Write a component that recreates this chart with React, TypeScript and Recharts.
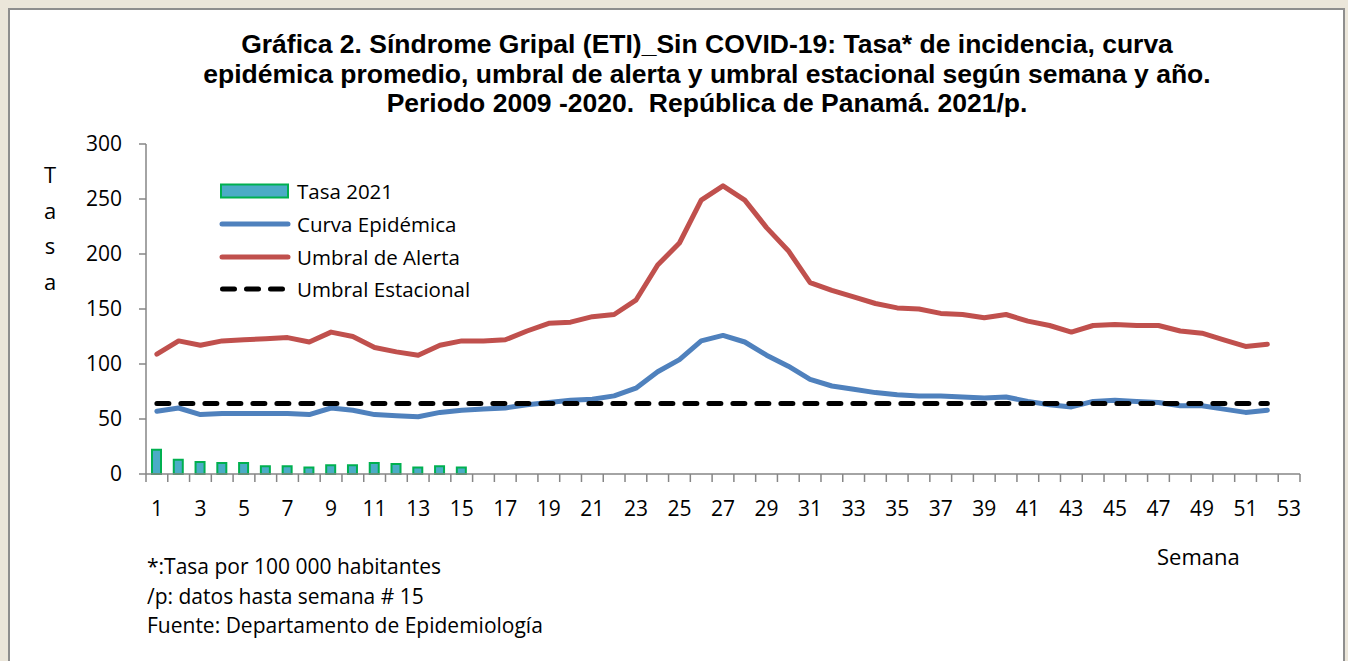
import React from "react";
import { ComposedChart, Bar, Line, XAxis, YAxis } from "recharts";

const weeks = [
  1, 2, 3, 4, 5, 6, 7, 8, 9, 10, 11, 12, 13, 14, 15, 16, 17, 18, 19, 20, 21, 22, 23, 24, 25, 26,
  27, 28, 29, 30, 31, 32, 33, 34, 35, 36, 37, 38, 39, 40, 41, 42, 43, 44, 45, 46, 47, 48, 49, 50,
  51, 52,
];

const tasa2021 = [22, 13, 11, 10, 10, 7, 7, 6, 8, 8, 10, 9, 6, 7, 6];

const curvaEpidemica = [
  57, 60, 54, 55, 55, 55, 55, 54, 60, 58, 54, 53, 52, 56, 58, 59, 60, 63, 65, 67, 68, 71, 78, 93,
  104, 121, 126, 120, 108, 98, 86, 80, 77, 74, 72, 71, 71, 70, 69, 70, 66, 63, 61, 66, 67, 66, 65,
  62, 62, 59, 56, 58,
];

const umbralAlerta = [
  109, 121, 117, 121, 122, 123, 124, 120, 129, 125, 115, 111, 108, 117, 121, 121, 122, 130, 137,
  138, 143, 145, 158, 190, 210, 249, 262, 249, 224, 203, 174, 167, 161, 155, 151, 150, 146, 145,
  142, 145, 139, 135, 129, 135, 136, 135, 135, 130, 128, 122, 116, 118,
];

const umbralEstacional = [
  64, 64, 64, 64, 64, 64, 64, 64, 64, 64, 64, 64, 64, 64, 64, 64, 64, 64, 64, 64, 64, 64, 64, 64,
  64, 64, 64, 64, 64, 64, 64, 64, 64, 64, 64, 64, 64, 64, 64, 64, 64, 64, 64, 64, 64, 64, 64, 64,
  64, 64, 64, 64,
];

const xTickLabels = [1, 3, 5, 7, 9, 11, 13, 15, 17, 19, 21, 23, 25, 27, 29, 31, 33, 35, 37, 39, 41, 43, 45, 47, 49, 51, 53];
const yTicks = [0, 50, 100, 150, 200, 250, 300];

const data = weeks.map((w, i) => ({
  week: w,
  tasa: tasa2021[i],
  curva: curvaEpidemica[i],
  alerta: umbralAlerta[i],
  estacional: umbralEstacional[i],
}));

// tick marks sit between categories (Excel style), labels on odd weeks
const boundaries = [0, ...xTickLabels, ...weeks, 53].map((w) => w + 0.5);
const xTicks = Array.from(new Set([...boundaries, ...xTickLabels])).sort((a, b) => a - b);

const FONT = "'Open Sans', sans-serif";
const AXIS = "#868686";

const XTick = (props: any) => {
  const { x, y, payload } = props;
  const v = payload.value;
  if (Number.isInteger(v)) {
    return (
      <text x={x} y={y + 22} textAnchor="middle" dominantBaseline="central" fontSize={21} fill="#000" fontFamily={FONT}>
        {v}
      </text>
    );
  }
  return <line x1={x} x2={x} y1={y - 12} y2={y - 4} stroke={AXIS} strokeWidth={1.5} />;
};

const Legend = () => {
  const rows = [
    { label: "Tasa 2021", kind: "bar" },
    { label: "Curva Epidémica", kind: "line", color: "#4f81bd" },
    { label: "Umbral de Alerta", kind: "line", color: "#c0504d" },
    { label: "Umbral Estacional", kind: "dash", color: "#000" },
  ];
  return (
    <div style={{ position: "absolute", left: 218, top: 175 }}>
      {rows.map((r) => (
        <div key={r.label} style={{ display: "flex", alignItems: "center", height: 32.7 }}>
          <svg width={76} height={20}>
            {r.kind === "bar" && <rect x={3} y={3.5} width={67} height={13} fill="#4bacc6" stroke="#00b050" strokeWidth={2} />}
            {r.kind === "line" && <line x1={4} x2={70} y1={10} y2={10} stroke={r.color} strokeWidth={5} strokeLinecap="round" />}
            {r.kind === "dash" && (
              <line x1={4.5} x2={66} y1={10} y2={10} stroke={r.color} strokeWidth={5} strokeLinecap="round" strokeDasharray="12 12" />
            )}
          </svg>
          <span style={{ fontFamily: FONT, fontSize: 20.5, marginLeft: 3, whiteSpace: "nowrap" }}>{r.label}</span>
        </div>
      ))}
    </div>
  );
};

export default function App() {
  const title = [
    "Gráfica 2. Síndrome Gripal (ETI)_Sin COVID-19: Tasa* de incidencia, curva",
    "epidémica promedio, umbral de alerta y umbral estacional según semana y año.",
    "Periodo 2009 -2020.  República de Panamá. 2021/p.",
  ];
  const notes = ["*:Tasa por 100 000 habitantes", "/p: datos hasta semana # 15", "Fuente: Departamento de Epidemiología"];
  return (
    <div style={{ position: "absolute", left: 0, top: 0, width: 1348, height: 661, background: "#ebe6da", overflow: "hidden" }}>
      <div
        style={{
          position: "absolute",
          left: 8,
          top: 8,
          width: 1333,
          height: 700,
          background: "#fff",
          border: "2px solid #8e8e8e",
        }}
      />
      <div style={{ position: "absolute", left: 0, top: 0 }}>
        <ComposedChart width={1348} height={661} data={data} margin={{ top: 144, right: 48, left: 66, bottom: 147 }}>
          <XAxis
            dataKey="week"
            type="number"
            domain={[0.5, 53.5]}
            ticks={xTicks}
            interval={0}
            tick={<XTick />}
            tickLine={false}
            tickSize={8}
            tickMargin={4}
            height={40}
            axisLine={{ stroke: AXIS, strokeWidth: 1.5 }}
          />
          <YAxis
            domain={[0, 300]}
            ticks={yTicks}
            interval={0}
            width={80}
            tickSize={7}
            tickMargin={17}
            tick={{ fontSize: 21, fill: "#000", fontFamily: FONT }}
            tickLine={{ stroke: AXIS, strokeWidth: 1.5 }}
            axisLine={{ stroke: AXIS, strokeWidth: 1.5 }}
          />
          <Bar dataKey="tasa" barSize={9} fill="#4bacc6" stroke="#00b050" strokeWidth={2} isAnimationActive={false} />
          <Line dataKey="curva" type="linear" stroke="#4f81bd" strokeWidth={5} dot={false} strokeLinejoin="round" strokeLinecap="round" isAnimationActive={false} />
          <Line dataKey="alerta" type="linear" stroke="#c0504d" strokeWidth={5} dot={false} strokeLinejoin="round" strokeLinecap="round" isAnimationActive={false} />
          <Line
            dataKey="estacional"
            type="linear"
            stroke="#000"
            strokeWidth={5}
            strokeDasharray="12 12"
            strokeLinecap="round"
            dot={false}
            isAnimationActive={false}
          />
        </ComposedChart>
      </div>
      <div
        style={{
          position: "absolute",
          left: 0,
          width: 1414,
          top: 30,
          textAlign: "center",
          fontFamily: "'Liberation Sans', Arial, sans-serif",
          fontWeight: "bold",
          fontSize: 26.5,
          lineHeight: "29.5px",
        }}
      >
        {title.map((t) => (
          <div key={t} style={{ whiteSpace: "pre" }}>{t}</div>
        ))}
      </div>
      <div style={{ position: "absolute", left: 38, top: 157, width: 24, textAlign: "center", fontFamily: FONT, fontSize: 22, lineHeight: "35.5px" }}>
        {["T", "a", "s", "a"].map((c, i) => (
          <div key={i}>{c}</div>
        ))}
      </div>
      <div style={{ position: "absolute", left: 1157, top: 541, fontFamily: FONT, fontSize: 22 }}>Semana</div>
      <div style={{ position: "absolute", left: 147, top: 552, fontFamily: FONT, fontSize: 21, lineHeight: "29.5px" }}>
        {notes.map((n) => (
          <div key={n}>{n}</div>
        ))}
      </div>
      <Legend />
    </div>
  );
}
